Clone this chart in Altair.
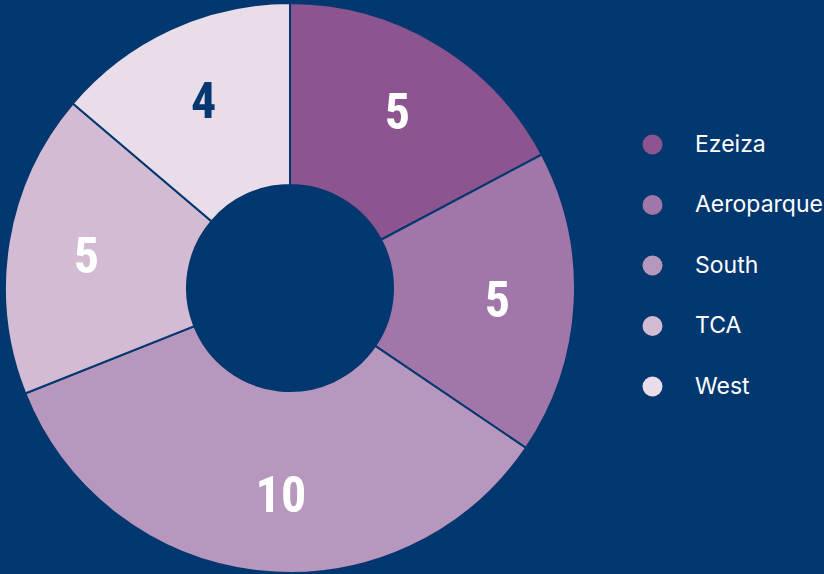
import altair as alt
import pandas as pd

BG = "#03376F"

regions = ["Ezeiza", "Aeroparque", "South", "TCA", "West"]
counts = [5, 5, 10, 5, 4]
colors = ["#8C558F", "#A077A8", "#B897BF", "#D2BBD3", "#EADDEA"]

df = pd.DataFrame({"region": regions, "count": counts, "idx": list(range(len(regions)))})

base = alt.Chart(df).encode(
    theta=alt.Theta("count:Q", stack=True),
    order=alt.Order("idx:Q"),
    x=alt.value(290),
    y=alt.value(288),
)

arcs = base.mark_arc(innerRadius=103, outerRadius=285, stroke=BG, strokeWidth=2).encode(
    color=alt.Color(
        "region:N",
        sort=regions,
        scale=alt.Scale(domain=regions, range=colors),
        legend=alt.Legend(
            title=None,
            orient="none",
            legendX=641,
            legendY=133,
            symbolType="circle",
            symbolSize=400,
            symbolStrokeWidth=0,
            labelFont="Inter",
            labelFontSize=23,
            labelColor="#FFFFFF",
            labelOffset=31,
            rowPadding=36.5,
        ),
    )
)

labels = base.mark_text(
    radius=207,
    align="left",
    dx=-12,
    dy=3,
    font="'Roboto Condensed', 'Liberation Sans Narrow', 'DejaVu Sans Condensed', sans-serif",
    fontSize=50,
    fontWeight="bold",
).encode(
    text=alt.Text("count:Q"),
    color=alt.condition(alt.datum.region == "West", alt.value(BG), alt.value("#FFFFFF")),
)

chart = (
    alt.layer(arcs, labels)
    .properties(width=824, height=574, background=BG, padding=0, autosize="none")
    .configure_view(stroke=None)
)

chart.save("out.html", embed_options={"renderer": "svg", "actions": False})
